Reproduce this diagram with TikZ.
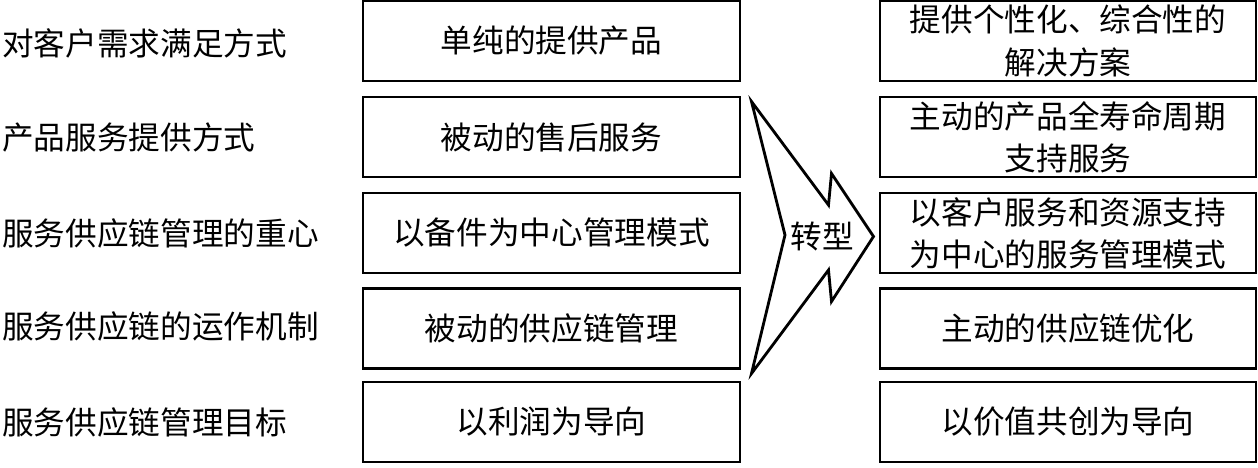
\documentclass[tikz,border=0pt]{standalone}
\usepackage{fontspec}
\newfontfamily\cjk{Noto Sans CJK SC}
\usetikzlibrary{positioning}

\begin{document}
\begin{tikzpicture}[
  every node/.style={font=\cjk\fontsize{18}{24}\selectfont},
  %% ── Row label style ─────────────────────────────────────────────────────
  rowlabel/.style={anchor=west, inner sep=0pt},
  %% ── Box styles ──────────────────────────────────────────────────────────
  oldbox/.style={
    draw, line width=1.6pt,
    minimum width=7.54cm, minimum height=1.6cm,
    align=center, inner sep=2pt
  },
  newbox/.style={
    draw, line width=1.6pt,
    minimum width=7.52cm, minimum height=1.6cm,
    align=center, inner sep=2pt
  },
  %% ── Chevron style ───────────────────────────────────────────────────────
  chevron/.style={draw, line width=1.6pt, line join=miter},
]

\useasboundingbox (0,0) rectangle (25.16,-9.34);

%% ═══════════════════════════════════════════════════════════════════════════
%% ROW LABELS
%% ═══════════════════════════════════════════════════════════════════════════

\node[rowlabel] (q1) at (0.04,-0.86) {对客户需求满足方式};
\node[rowlabel] (q2) at (0.04,-2.74) {产品服务提供方式};
\node[rowlabel] (q3) at (0.04,-4.66) {服务供应链管理的重心};
\node[rowlabel] (q4) at (0.04,-6.52) {服务供应链的运作机制};
\node[rowlabel] (q5) at (0.04,-8.44) {服务供应链管理目标};

%% ═══════════════════════════════════════════════════════════════════════════
%% BEFORE (middle column)
%% ═══════════════════════════════════════════════════════════════════════════

\node[oldbox] (old1) at (11.03,-0.82) {单纯的提供产品};
\node[oldbox] (old2) at (11.03,-2.74) {被动的售后服务};
\node[oldbox] (old3) at (11.03,-4.66) {以备件为中心管理模式};
\node[oldbox] (old4) at (11.03,-6.57) {被动的供应链管理};
\node[oldbox] (old5) at (11.03,-8.44) {以利润为导向};

%% ═══════════════════════════════════════════════════════════════════════════
%% AFTER (right column)
%% ═══════════════════════════════════════════════════════════════════════════

\node[newbox] (new1) at (21.36,-0.82) {提供个性化、综合性的\\解决方案};
\node[newbox] (new2) at (21.36,-2.74) {主动的产品全寿命周期\\支持服务};
\node[newbox] (new3) at (21.36,-4.66) {以客户服务和资源支持\\为中心的服务管理模式};
\node[newbox] (new4) at (21.36,-6.57) {主动的供应链优化};
\node[newbox] (new5) at (21.36,-8.44) {以价值共创为导向};

%% ═══════════════════════════════════════════════════════════════════════════
%% TRANSFORMATION CHEVRON
%% ═══════════════════════════════════════════════════════════════════════════

\draw[chevron]
  (15.03,-2.03) -- (16.57,-4.10) -- (16.63,-3.47) -- (17.47,-4.73)
  -- (16.63,-6.03) -- (16.57,-5.40) -- (15.03,-7.47) -- (15.70,-4.70)
  -- cycle;

\node (shift) at (16.45,-4.72) {转型};

\end{tikzpicture}
\end{document}
